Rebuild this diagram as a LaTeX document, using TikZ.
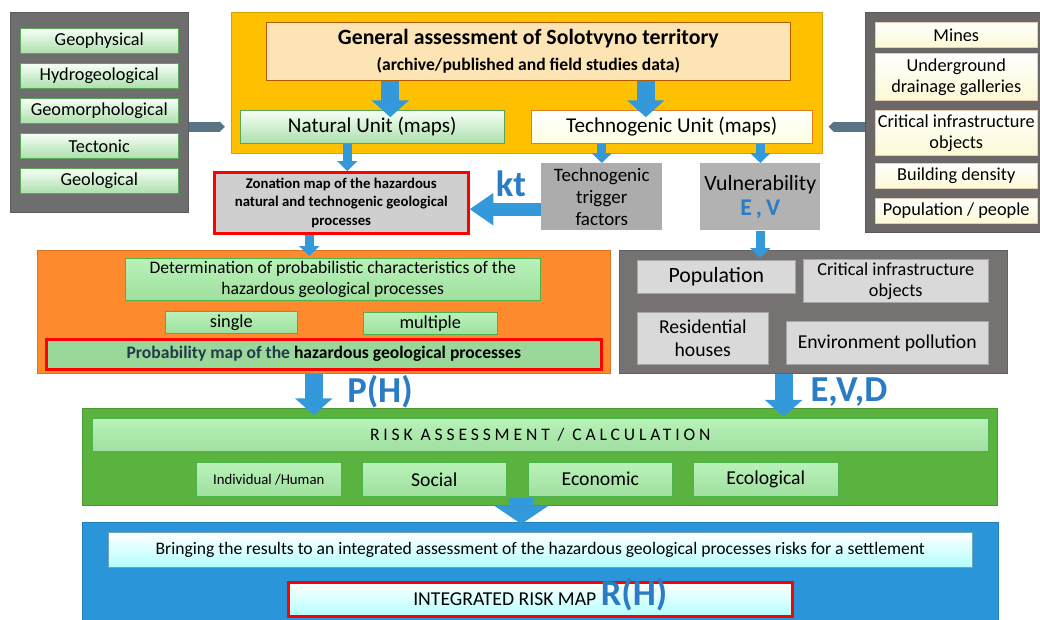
\documentclass[tikz,border=0pt]{standalone}
\usepackage{fontspec}
\setmainfont{Carlito}
\usetikzlibrary{arrows.meta}
\definecolor{leftgray}{HTML}{6F6E6E}
\definecolor{rightgray}{HTML}{6C6868}
\definecolor{lowgray}{HTML}{767272}
\definecolor{yellowp}{HTML}{FFC000}
\definecolor{orangep}{HTML}{FD8A2C}
\definecolor{greenp}{HTML}{5AB33E}
\definecolor{bluep}{HTML}{2B95DA}
\definecolor{arrowblue}{HTML}{3399DB}
\definecolor{symblue}{HTML}{2A7CC4}
\definecolor{slatearrow}{HTML}{5B7485}
\definecolor{probtext}{HTML}{243A4C}
\definecolor{peach}{HTML}{FCE4B4}

\begin{document}
\begin{tikzpicture}[x=0.025cm,y=-0.025cm,
  sz/.style 2 args={minimum width=#1*0.025cm,minimum height=#2*0.025cm},
  box/.style={anchor=north west,inner sep=0pt,align=center,font=\fontsize{13}{15}\selectfont},
  panel/.style={box,draw=#1!85!black,fill=#1},
  gitem/.style={box,draw=green!30!gray,top color=green!3,bottom color=green!45!gray!45},
  citem/.style={box,draw=brown!40,top color=white,bottom color=brown!25!yellow!18},
  gyitem/.style={box,draw=gray!70,fill=gray!30},
  hazard/.style={box,draw=red,line width=1.8pt,fill=gray!38},
  ritem/.style={box,draw=green!40!gray,top color=green!25!white!90!gray,bottom color=green!50!gray!50},
  bitem/.style={box,draw=cyan!40!gray,top color=white,bottom color=cyan!30},
  sym/.style={text=symblue,font=\fontsize{26}{28}\selectfont\bfseries},
  thinar/.style={draw=arrowblue,line width=6.4pt,-{Triangle[width=14pt,length=7pt]}},
  fatar/.style={draw=arrowblue,line width=13pt,-{Triangle[width=26pt,length=12pt]}},
  grayar/.style={draw=slatearrow,line width=7.5pt,-{Triangle[width=7.5pt,length=4pt]}}]
\useasboundingbox (0,0) rectangle (1040,619);
% panels
\node[panel=leftgray,sz={178}{200}] (leftp) at (10,12) {};
\node[panel=yellowp,sz={591}{141}] (yellow) at (231,12) {};
\node[panel=rightgray,sz={178}{220}] (rightp) at (865,12) {};
\node[panel=orangep,sz={573}{123}] (orange) at (37,250) {};
\node[panel=lowgray,sz={388}{123}] (lowp) at (619,250) {};
\node[panel=greenp,sz={915}{97}] (greenp) at (82,408) {};
\node[panel=bluep,sz={916}{100}] (bluep) at (82,522) {};

% natural factors
\foreach \y/\t/\n in {28/Geophysical/geoph,63/Hydrogeological/hydro,98/Geomorphological/geomorph,133/Tectonic/tecton,168/Geological/geolog}
  \node[gitem,sz={158}{25}] (\n) at (20,\y) {\t};

% technogenic factors
\foreach \y/\h/\t/\n in {22/25/Mines/mines,53/47/{Underground\\drainage galleries}/drain,110/45/{Critical infrastructure\\objects}/critobj,163/25/Building density/build,198/25/{Population / people}/people}
  \node[citem,sz={162}{\h}] (\n) at (875,\y) {\t};

\node[box,draw=orange!70!black,fill=peach,sz={524}{58},font=\bfseries\fontsize{15.5}{19}\selectfont] (general) at (266,22)
  {General assessment of Solotvyno territory\\{\fontsize{12.5}{15}\selectfont(archive/published and field studies data)}};
\node[gitem,sz={264}{33},font=\fontsize{15}{17}\selectfont] (natural) at (240,110) {Natural Unit (maps)};
\node[box,draw=orange!50!brown,top color=white,bottom color=yellow!12,sz={281}{33},font=\fontsize{15}{17}\selectfont] (techno) at (531,110) {Technogenic Unit (maps)};

\node[hazard,sz={254}{61},font=\bfseries\fontsize{10.5}{13}\selectfont] (zonation) at (213,171)
  {Zonation map of the hazardous\\natural and technogenic geological\\processes};
\node[box,fill=gray!65,sz={121}{67},font=\fontsize{13.5}{15.5}\selectfont] (trigger) at (541,163) {Technogenic\\trigger\\factors};
\node[box,fill=gray!60,sz={120}{67},font=\fontsize{15.5}{17}\selectfont] (vulner) at (700,163)
  {Vulnerability\\[1pt]{\color{symblue}\fontsize{17}{17}\selectfont\bfseries E\,,\,V}};
\node[sym] (kt) at (511,184) {kt};

% probability block
\node[ritem,sz={415}{42},font=\fontsize{12.5}{15}\selectfont] (determ) at (125,258)
  {Determination of probabilistic characteristics of the\\hazardous geological processes};
\node[ritem,sz={132}{22}] (single) at (165,311) {single};
\node[ritem,sz={134}{22}] (multiple) at (363,312) {multiple};
\node[hazard,fill=green!45!gray!55,sz={555}{30},font=\bfseries\fontsize{12.5}{15}\selectfont] (probmap) at (45,338)
  {{\color{probtext}Probability map of the} hazardous geological processes};

% elements at risk
\node[gyitem,sz={158}{33},font=\fontsize{15.5}{17}\selectfont] (popul) at (637,260) {Population};
\node[gyitem,sz={185}{43}] (critinf) at (803,259) {Critical infrastructure\\objects};
\node[gyitem,sz={131}{52},font=\fontsize{14}{16}\selectfont] (resid) at (637,312) {Residential\\houses};
\node[gyitem,sz={202}{43},font=\fontsize{14}{16}\selectfont] (envir) at (786,321) {Environment pollution};

\node[sym] (ph) at (380,392) {P(H)};
\node[sym] (evd) at (849,392) {E,V,D};

% risk calculation
\node[ritem,sz={896}{33},font=\fontsize{12.5}{15}\selectfont\addfontfeatures{LetterSpace=22}] (riskass) at (92,418) {RISK ASSESSMENT / CALCULATION};
\node[ritem,sz={145}{34},font=\fontsize{10.5}{13}\selectfont] (indiv) at (196,462) {Individual /Human};
\node[ritem,sz={144}{34},font=\fontsize{14}{16}\selectfont] (social) at (362,462) {Social};
\node[ritem,sz={144}{34},font=\fontsize{14}{16}\selectfont] (econ) at (528,462) {Economic};
\node[ritem,sz={145}{34},font=\fontsize{14}{16}\selectfont] (ecol) at (693,462) {Ecological};

\node[bitem,sz={864}{35},font=\fontsize{12.5}{15}\selectfont] (bring) at (108,532)
  {Bringing the results to an integrated assessment of the hazardous geological processes risks for a settlement};
\node[bitem,draw=red,line width=1.8pt,sz={504}{34},font=\fontsize{14}{16}\selectfont] (integ) at (287,581)
  {INTEGRATED RISK MAP \smash{\color{symblue}\fontsize{26}{26}\selectfont\bfseries R(H)}};

% connectors
\draw[grayar] (leftp.east |- natural) -- ([xshift=-0.15cm]yellow.west |- natural);
\draw[grayar] (rightp.west |- techno) -- ([xshift=0.15cm]yellow.east |- techno);
\draw[fatar] ([xshift=0.45cm]general.south -| natural) -- ([xshift=0.45cm,yshift=-0.18cm]natural.north);
\draw[fatar] ([xshift=-0.65cm]general.south -| techno) -- ([xshift=-0.65cm,yshift=-0.18cm]techno.north);
\draw[thinar] ([xshift=0.15cm]natural.south -| zonation) -- ([xshift=0.15cm]zonation.north);
\draw[thinar] (techno.south -| trigger) -- (trigger.north);
\draw[thinar] (techno.south -| vulner) -- (vulner.north);
\draw[draw=arrowblue,line width=9pt,-{Triangle[width=22pt,length=17pt]}] ([yshift=-0.31cm]trigger.west) -- ([yshift=-0.31cm]trigger.west -| zonation.east);
\draw[thinar] ([xshift=-0.8cm]zonation.south) -- ([xshift=-0.8cm,yshift=-0.15cm]zonation.south |- orange.north);
\draw[thinar] (vulner.south) -- ([yshift=-0.2cm]vulner.south |- lowp.north);
\draw[fatar] ([xshift=-0.25cm]orange.south) -- ([xshift=-0.25cm,yshift=-0.18cm]orange.south |- greenp.north);
\draw[fatar] ([xshift=-0.74cm]lowp.south) -- ([xshift=-0.74cm,yshift=-0.22cm]lowp.south |- greenp.north);
\draw[draw=arrowblue,line width=17pt,-{Triangle[width=38pt,length=13pt]}] ([xshift=-0.46cm,yshift=0.2cm]greenp.south) -- ([xshift=-0.46cm,yshift=-0.05cm]greenp.south |- bluep.north);
\end{tikzpicture}
\end{document}
